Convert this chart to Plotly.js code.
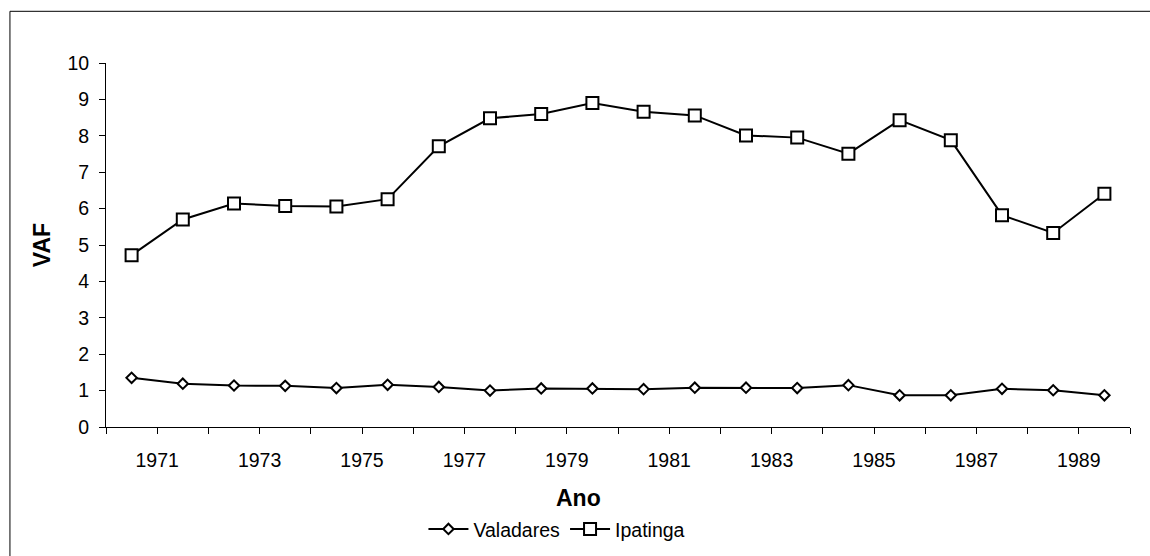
<!DOCTYPE html>
<html>
<head>
<meta charset="utf-8">
<script src="https://cdn.plot.ly/plotly-3.0.1.min.js"></script>
<style>
html,body{margin:0;padding:0;background:#fff;}
#chart{width:1150px;height:556px;}
</style>
</head>
<body>
<div id="chart"></div>
<script>
// Data
const years = [1970,1971,1972,1973,1974,1975,1976,1977,1978,1979,1980,1981,1982,1983,1984,1985,1986,1987,1988,1989];
const valadares = [1.35,1.19,1.14,1.13,1.07,1.16,1.10,1.00,1.06,1.06,1.04,1.08,1.08,1.07,1.15,0.87,0.87,1.05,1.01,0.87];
const ipatinga = [4.72,5.70,6.14,6.07,6.06,6.26,7.71,8.48,8.60,8.90,8.66,8.56,8.01,7.95,7.51,8.43,7.88,5.82,5.33,6.41];
const tickYears = [1970,1971,1972,1973,1974,1975,1976,1977,1978,1979,1980,1981,1982,1983,1984,1985,1986,1987,1988,1989,1990];
const tickLabels = ['','1971','','1973','','1975','','1977','','1979','','1981','','1983','','1985','','1987','','1989',''];

// each year's value is plotted in the middle of its yearly slot
const xPos = years.map(y => y + 0.5);

const FONT = 'Liberation Sans, Arial, sans-serif';
const TICKSIZE = 19.5;

const traces = [
  {
    x: xPos, y: valadares, name: 'Valadares', type: 'scatter', mode: 'lines+markers',
    line: {color: '#000', width: 2},
    marker: {symbol: 'diamond', size: 8, color: '#fff', line: {color: '#000', width: 2}}
  },
  {
    x: xPos, y: ipatinga, name: 'Ipatinga', type: 'scatter', mode: 'lines+markers',
    line: {color: '#000', width: 2},
    marker: {symbol: 'square', size: 12, color: '#fff', line: {color: '#000', width: 2}}
  }
];

const layout = {
  width: 1150, height: 556,
  margin: {l: 106, r: 20, t: 63, b: 129, autoexpand: false},
  paper_bgcolor: '#fff', plot_bgcolor: '#fff',
  font: {family: FONT, size: TICKSIZE, color: '#000'},
  showlegend: true,
  legend: {
    orientation: 'h', x: 0.31, xanchor: 'left', y: -0.281, yanchor: 'middle',
    font: {family: FONT, size: TICKSIZE, color: '#000'},
    itemwidth: 40, tracegroupgap: 0, bgcolor: 'rgba(0,0,0,0)'
  },
  xaxis: {
    range: [1970, 1990], tickmode: 'array', tickvals: tickYears, ticktext: tickLabels,
    showgrid: false, zeroline: false, showline: true, linecolor: '#000', linewidth: 1,
    ticks: 'outside', ticklen: 6, tickcolor: '#000', tickwidth: 1, ticklabelstandoff: 10,
    tickfont: {family: FONT, size: TICKSIZE, color: '#000'}, fixedrange: true
  },
  yaxis: {
    range: [0, 10], dtick: 1, tick0: 0,
    showgrid: false, zeroline: false, showline: true, linecolor: '#000', linewidth: 1,
    ticks: 'outside', ticklen: 6, tickcolor: '#000', tickwidth: 1, ticklabelstandoff: 6,
    tickfont: {family: FONT, size: TICKSIZE, color: '#000'},
    title: {text: '<b>VAF</b>', font: {family: FONT, size: 23, color: '#000'}, standoff: 10},
    fixedrange: true
  },
  annotations: [
    {
      text: '<b>Ano</b>', xref: 'paper', yref: 'paper', x: 0.461, y: -0.195,
      xanchor: 'center', yanchor: 'middle', showarrow: false,
      font: {family: FONT, size: 23, color: '#000'}
    }
  ],
  shapes: [
    {
      type: 'rect', xref: 'paper', yref: 'paper',
      x0: -0.0938, x1: 1.1, y0: -0.4, y1: 1.142,
      line: {color: '#000', width: 1}, fillcolor: 'rgba(0,0,0,0)', layer: 'below'
    }
  ]
};

Plotly.newPlot('chart', traces, layout, {displayModeBar: false, staticPlot: true});
</script>
</body>
</html>
